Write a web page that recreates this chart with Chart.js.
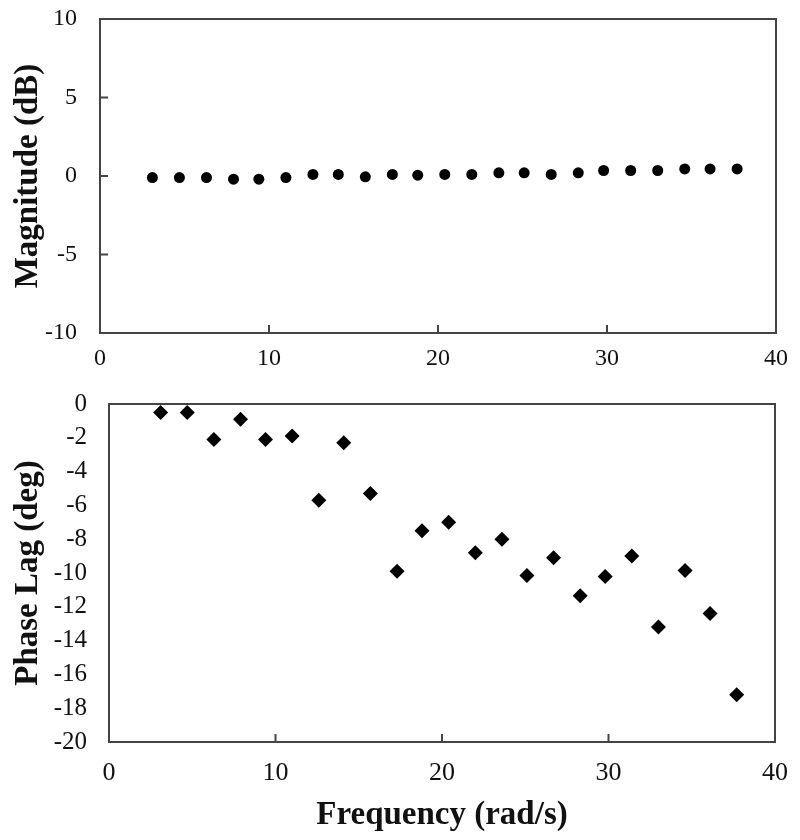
<!DOCTYPE html>
<html>
<head>
<meta charset="utf-8">
<script src="https://cdn.jsdelivr.net/npm/chart.js@4/dist/chart.umd.min.js"></script>
<style>
  body { margin: 0; background: #fff; }
  #magnitude-chart { position: absolute; left: 0; top: 0; }
  #phase-chart { position: absolute; left: 0; top: 380px; }
</style>
</head>
<body>
<canvas id="magnitude-chart" width="800" height="380"></canvas>
<canvas id="phase-chart" width="800" height="460"></canvas>
<script>
// Fréquences de mesure (rad/s)
const frequencies = [3.1, 4.7, 6.3, 7.9, 9.4, 11.0, 12.6, 14.1, 15.7, 17.3, 18.8, 20.4,
    22.0, 23.6, 25.1, 26.7, 28.3, 29.8, 31.4, 33.0, 34.6, 36.1, 37.7];
// Gain (dB)
const magnitudes = [-0.1, -0.1, -0.1, -0.2, -0.2, -0.1, 0.1, 0.1, -0.05, 0.1, 0.05, 0.1,
    0.1, 0.2, 0.2, 0.1, 0.2, 0.35, 0.35, 0.35, 0.45, 0.45, 0.45];
// Déphasage (deg)
const phaseLags = [-0.5, -0.5, -2.1, -0.9, -2.1, -1.9, -5.7, -2.3, -5.3, -9.9, -7.5, -7.0,
    -8.8, -8.0, -10.15, -9.1, -11.35, -10.2, -9.0, -13.2, -9.85, -12.4, -17.2];
const freqTicks = [10, 20, 30];
const magTicks = [-5, 0, 5];

const serif = "'Liberation Serif', 'Times New Roman', serif";
Chart.defaults.color = "#111";
Chart.defaults.font.family = serif;

// Dessine le cadre et les petites graduations tournées vers l'intérieur
const framePlugin = {
    id: "frame",
    afterDraw(chart, args, opts) {
        const { ctx, chartArea: a, scales } = chart;
        ctx.save();
        ctx.strokeStyle = "#444";
        ctx.lineWidth = 2;
        ctx.strokeRect(a.left, a.top, a.right - a.left, a.bottom - a.top);
        ctx.beginPath();
        for (const v of opts.xTicks || []) {
            const px = scales.x.getPixelForValue(v);
            ctx.moveTo(px, a.bottom);
            ctx.lineTo(px, a.bottom - 8);
        }
        for (const v of opts.yTicks || []) {
            const py = scales.y.getPixelForValue(v);
            ctx.moveTo(a.left, py);
            ctx.lineTo(a.left + 8, py);
        }
        ctx.stroke();
        ctx.restore();
    },
};

const toPoints = (ys) => frequencies.map((f, i) => ({ x: f, y: ys[i] }));
const noGrid = { display: false, drawTicks: false };
// Taille fixe des axes, sans marge ajoutée par les étiquettes
const fixX = (h) => (s) => { s.height = h; s.paddingLeft = 0; s.paddingRight = 0; };
const fixY = (w) => (s) => { s.width = w; s.paddingTop = 0; s.paddingBottom = 0; };

// Graphe du gain
new Chart(document.getElementById("magnitude-chart").getContext("2d"), {
    type: "scatter",
    data: {
        datasets: [
            {
                label: "Magnitude",
                data: toPoints(magnitudes),
                pointStyle: "circle",
                pointRadius: 5.5,
                backgroundColor: "#000",
                borderWidth: 0,
            },
        ],
    },
    options: {
        responsive: false,
        animation: false,
        layout: { padding: { top: 19, right: 24, left: 0, bottom: 0 } },
        plugins: {
            legend: { display: false },
            tooltip: { enabled: false },
            frame: { xTicks: freqTicks, yTicks: magTicks },
        },
        scales: {
            x: {
                type: "linear",
                min: 0,
                max: 40,
                grid: noGrid,
                border: { display: false },
                ticks: { stepSize: 10, padding: 11, font: { size: 24 }, autoSkip: false, maxRotation: 0 },
                afterFit: fixX(47),
            },
            y: {
                min: -10,
                max: 10,
                grid: noGrid,
                border: { display: false },
                ticks: { stepSize: 5, padding: 23, font: { size: 24 }, autoSkip: false },
                title: {
                    display: true,
                    text: "Magnitude (dB)",
                    font: { size: 33, weight: "bold" },
                    padding: { top: 9, bottom: 0 },
                },
                afterFit: fixY(100),
            },
        },
    },
    plugins: [framePlugin],
});

// Graphe du déphasage
new Chart(document.getElementById("phase-chart").getContext("2d"), {
    type: "scatter",
    data: {
        datasets: [
            {
                label: "Phase Lag",
                data: toPoints(phaseLags),
                pointStyle: "rectRot",
                pointRadius: 7.5,
                backgroundColor: "#000",
                borderWidth: 0,
            },
        ],
    },
    options: {
        responsive: false,
        animation: false,
        layout: { padding: { top: 24, right: 25, left: 0, bottom: 0 } },
        plugins: {
            legend: { display: false },
            tooltip: { enabled: false },
            frame: { xTicks: freqTicks, yTicks: [] },
        },
        scales: {
            x: {
                type: "linear",
                min: 0,
                max: 40,
                grid: noGrid,
                border: { display: false },
                ticks: { stepSize: 10, padding: 16, font: { size: 26 }, autoSkip: false, maxRotation: 0 },
                title: {
                    display: true,
                    text: "Frequency (rad/s)",
                    font: { size: 33, weight: "bold" },
                    padding: { top: 0, bottom: 5 },
                },
                afterFit: fixX(98),
            },
            y: {
                min: -20,
                max: 0,
                grid: noGrid,
                border: { display: false },
                ticks: { stepSize: 2, padding: 22, font: { size: 25 }, autoSkip: false },
                title: {
                    display: true,
                    text: "Phase Lag (deg)",
                    font: { size: 33, weight: "bold" },
                    padding: { top: 9, bottom: 0 },
                },
                afterFit: fixY(109),
            },
        },
    },
    plugins: [framePlugin],
});
</script>
</body>
</html>
